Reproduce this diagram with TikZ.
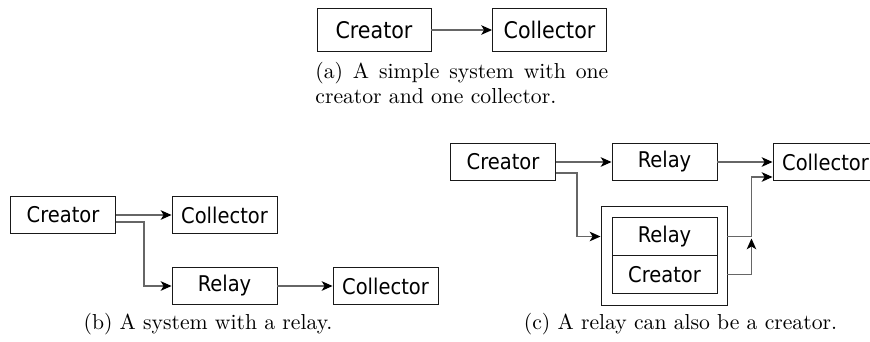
\documentclass[tikz,border=0pt]{standalone}
\usepackage{fontspec}
\newfontfamily\boxfont{DejaVu Sans Condensed}
\usetikzlibrary{arrows.meta,calc}
\begin{document}
\begin{tikzpicture}[x=0.48pt,y=-0.48pt,
  blk/.style={draw=black!90, line width=0.45pt, inner sep=0pt, minimum width=50.4pt, minimum height=18.2pt, font=\boxfont\fontsize{10.4pt}{12pt}\selectfont},
  blka/.style={blk, minimum width=54.7pt, minimum height=20.4pt, font=\boxfont\fontsize{11pt}{12pt}\selectfont},
  outerbox/.style={draw=black!90, line width=0.45pt, inner sep=0pt, minimum width=60.5pt, minimum height=47.5pt},
  conn/.style={draw=black!60, line width=0.55pt, -{Stealth[length=5.2pt,width=4.6pt,inset=1.4pt,black]}},
  captext/.style={inner sep=0pt, font=\fontsize{10.4pt}{12pt}\selectfont}]
\useasboundingbox (0,0) rectangle (870,341);
\clip (0,0) rectangle (870,341);
% (a)
\node[blka] (ca) at (374,30) {Creator};
\node[blka] (cola) at (549.5,30) {Collector};
\draw[conn] (ca.east) -- (cola.west);
\node[captext, anchor=north west, text width=140.6pt, align=justify] (capa) at (315,62) {(a) A simple system with one creator and one collector.};
% (b)
\node[blk] (cb) at (63,215) {Creator};
\node[blk] (colb1) at (224.5,215) {Collector};
\node[blk] (relb) at (224.5,286) {Relay};
\node[blk] (colb2) at (385.5,286) {Collector};
\draw[conn] (cb.east) -- (colb1.west);
\draw[conn] ($(cb.east)+(0,7)$) -- ++(28,0) |- (relb.west);
\draw[conn] (relb.east) -- (colb2.west);
\node[captext, anchor=base] (capb) at (208,329) {(b) A system with a relay.};
% (c)
\node[blk] (cc) at (503,162) {Creator};
\node[blk] (relc) at (664.5,162) {Relay};
\node[blk] (colc) at (825.5,162) {Collector};
\node[outerbox] (outer) at (664,255.5) {};
\node[blk] (inr) at (664.5,236.5) {Relay};
\node[blk] (inc) at (664.5,274.5) {Creator};
\draw[conn] (cc.east) -- (relc.west);
\draw[conn] ($(cc.east)+(0,11)$) -- ++(21,0) |- (outer.west |- inr);
\draw[conn] (relc.east) -- (colc.west);
\draw[conn] (outer.east |- inr) -- ++(24,0) |- ($(colc.west)+(0,15)$);
\draw[conn] (outer.east |- inc) -| ($(outer.east |- inr)+(24,2)$);
\node[captext, anchor=base] (capc) at (680.5,329) {(c) A relay can also be a creator.};
\end{tikzpicture}
\end{document}
